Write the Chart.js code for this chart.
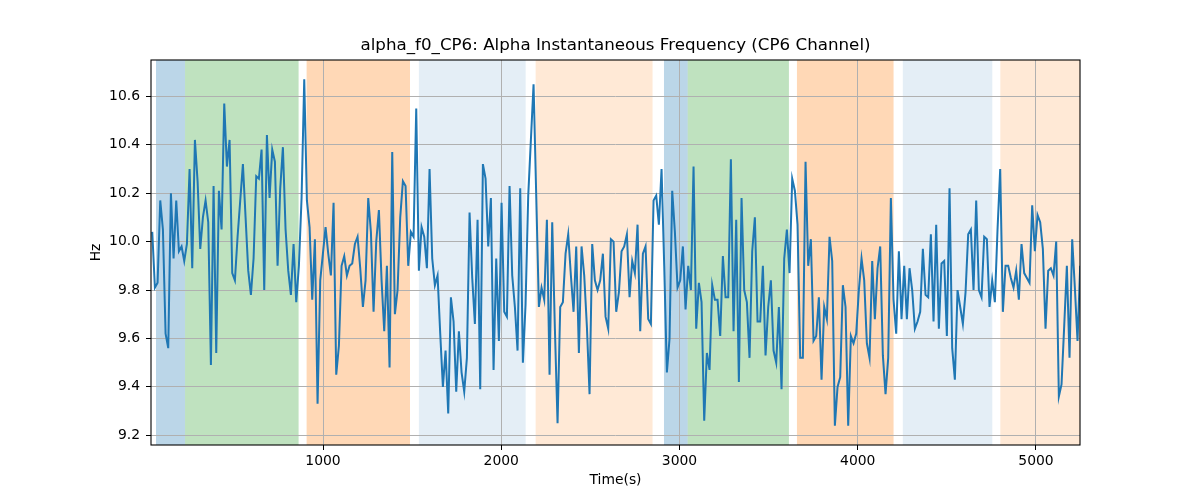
<!DOCTYPE html>
<html>
<head>
<meta charset="utf-8">
<script src="https://cdn.jsdelivr.net/npm/chart.js@4/dist/chart.umd.min.js"></script>
<style>
  html, body { margin: 0; padding: 0; background: #fff; }
  #wrap { width: 1200px; height: 500px; }
</style>
</head>
<body>
<div id="wrap"><canvas id="chart" width="1200" height="500"></canvas></div>
<script>
// sample clock of the signal (seconds)
const START = 42
const STEP = 14.96

// alpha instantaneous frequency, Hz
const values = [
    10.04, 9.81, 9.83, 10.17, 10.05, 9.62, 9.56, 10.2, 9.93, 10.17, 9.96, 9.98, 9.92, 9.99, 10.3, 9.89,
    10.42, 10.25, 9.97, 10.1, 10.17, 10.08, 9.49, 10.23, 9.54, 10.21, 10.05, 10.57, 10.31, 10.42, 9.87,
    9.84, 10.02, 10.17, 10.32, 10.1, 9.88, 9.78, 9.93, 10.27, 10.26, 10.38, 9.80,
    10.44, 10.18, 10.38, 10.33, 9.90, 10.22, 10.39, 10.05, 9.88, 9.78, 9.99, 9.75, 9.9, 10.18, 10.67,
    10.17, 10.06, 9.76, 10.01, 9.33, 9.84, 9.95, 10.06, 9.95, 9.86, 10.16, 9.45, 9.57, 9.9, 9.94, 9.86,
    9.9, 9.91, 9.99, 10.02, 9.89, 9.73, 9.84, 10.18, 10.04, 9.71, 10.0, 10.13, 9.84, 9.63,
    9.9, 9.48, 10.37, 9.70, 9.8, 10.1, 10.25, 10.23, 9.9, 10.04, 10.02, 10.55, 9.88, 10.06, 10.02, 9.89,
    10.3, 9.93, 9.82, 9.86, 9.62, 9.40, 9.55, 9.29, 9.77, 9.67, 9.38, 9.63, 9.46, 9.38, 9.52, 10.12,
    9.85, 9.66, 10.09, 9.39, 10.32, 10.26, 9.98, 10.18, 9.47, 9.93, 9.59, 10.16, 9.71,
    9.69, 10.23, 9.86, 9.73, 9.55, 10.22, 9.5, 9.74, 10.19, 10.42, 10.65, 10.19, 9.73, 9.81, 9.76, 10.09,
    9.45, 10.08, 9.64, 9.25, 9.73, 9.75, 9.95, 10.03, 9.86, 9.71, 9.98, 9.54, 9.98, 9.86, 9.65, 9.37,
    9.99, 9.84, 9.80, 9.84, 9.95, 9.69, 9.64, 10.01, 10.0, 9.71, 9.79, 9.96, 9.98,
    10.03, 9.77, 9.92, 9.87, 10.07, 9.63, 9.95, 9.98, 9.68, 9.66, 10.17, 10.19, 10.07, 10.3, 9.9, 9.46,
    9.6, 10.21, 10.04, 9.81, 9.84, 9.98, 9.72, 9.9, 9.8, 10.31, 9.64, 9.83, 9.75, 9.26, 9.54, 9.47,
    9.82, 9.76, 9.76, 9.61, 9.94, 9.77, 9.77, 10.34, 9.63, 10.09, 9.42, 10.18, 9.8,
    9.75, 9.52, 9.96, 10.1, 9.67, 9.67, 9.9, 9.53, 9.73, 9.84, 9.55, 9.5, 9.73, 9.39, 9.93, 10.05,
    9.87, 10.26, 10.21, 10.07, 9.52, 9.52, 10.33, 9.9, 10.01, 9.59, 9.61, 9.77, 9.43, 9.73, 9.68, 10.02,
    9.92, 9.24, 9.4, 9.44, 9.82, 9.73, 9.24, 9.61, 9.58, 9.62, 9.8, 9.93, 9.84,
    9.58, 9.52, 9.92, 9.68, 9.89, 9.98, 9.53, 9.37, 9.52, 10.18, 9.76, 9.62, 9.96, 9.68, 9.9, 9.68,
    9.89, 9.8, 9.64, 9.67, 9.71, 9.97, 9.78, 9.77, 10.03, 9.67, 10.07, 9.64, 9.91, 9.92, 9.61, 10.22,
    9.56, 9.43, 9.8, 9.73, 9.66, 9.79, 10.03, 10.05, 9.8, 10.17, 9.8, 9.77, 10.02,
    10.01, 9.73, 9.84, 9.75, 10.05, 10.3, 9.71, 9.9, 9.9, 9.85, 9.81, 9.88, 9.76, 9.99, 9.87, 9.85,
    9.83, 10.15, 9.96, 10.11, 10.08, 9.97, 9.64, 9.88, 9.89, 9.86, 10.0, 9.36, 9.41, 9.65, 9.9, 9.52,
    10.01, 9.81, 9.59, 9.9
]

// shaded phases (seconds)
const spanStart = [63, 226, 908, 1538, 2193, 2913, 3046, 3659, 4253, 4800]
const spanEnd   = [226, 863, 1488, 2137, 2849, 3046, 3614, 4201, 4755, 5300]

const xTicks = [1000, 2000, 3000, 4000, 5000]
const yTicks = [9.2, 9.4, 9.6, 9.8, 10.0, 10.2, 10.4, 10.6]

const TITLE = 'alpha_f0_CP6: Alpha Instantaneous Frequency (CP6 Channel)'

const spanColors = [
    'rgba(31,119,180,0.3)', 'rgba(44,160,44,0.3)', 'rgba(255,127,14,0.3)',
    'rgba(31,119,180,0.12)', 'rgba(255,127,14,0.17)',
    'rgba(31,119,180,0.3)', 'rgba(44,160,44,0.3)', 'rgba(255,127,14,0.3)',
    'rgba(31,119,180,0.12)', 'rgba(255,127,14,0.17)'
]

const points = values.map((v, i) => ({ x: START + STEP * i, y: v }))
const FONT = 'DejaVu Sans'

const spans = {
    id: 'spans',
    beforeDraw(chart) {
        const { ctx, chartArea: a, scales: { x } } = chart
        ctx.save()
        ctx.beginPath()
        ctx.rect(a.left, a.top, a.right - a.left, a.bottom - a.top)
        ctx.clip()
        spanStart.forEach((s, i) => {
            const x0 = x.getPixelForValue(s)
            const x1 = x.getPixelForValue(spanEnd[i])
            ctx.fillStyle = spanColors[i]
            ctx.fillRect(x0, a.top, x1 - x0, a.bottom - a.top)
        })
        ctx.restore()
    }
}

// axes frame + title centred over the plot area (matplotlib style)
const frame = {
    id: 'frame',
    afterDraw(chart) {
        const { ctx, chartArea: a } = chart
        ctx.save()
        ctx.strokeStyle = '#000'
        ctx.lineWidth = 1.1
        ctx.strokeRect(a.left, a.top, a.right - a.left, a.bottom - a.top)
        ctx.fillStyle = '#000'
        ctx.font = '16.7px "' + FONT + '"'
        ctx.textAlign = 'center'
        ctx.textBaseline = 'middle'
        ctx.fillText(TITLE, (a.left + a.right) / 2, a.top - 14)
        ctx.restore()
    }
}

new Chart(document.getElementById('chart'), {
    type: 'line',
    data: {
        datasets: [{
            data: points,
            borderColor: '#1f77b4',
            borderWidth: 2,
            pointRadius: 0,
            tension: 0,
            fill: false
        }]
    },
    options: {
        responsive: false,
        animation: false,
        events: [],
        layout: { padding: { left: 80, right: 120, top: 60, bottom: 0 } },
        plugins: {
            legend: { display: false },
            tooltip: { enabled: false },
            title: { display: false }
        },
        scales: {
            x: {
                type: 'linear',
                min: 35,
                max: 5247,
                afterFit(scale) { scale.height = 55 },
                afterBuildTicks(scale) { scale.ticks = xTicks.map(v => ({ value: v })) },
                ticks: {
                    color: '#000',
                    font: { family: FONT, size: 13.9 },
                    padding: 3,
                    maxRotation: 0,
                    callback: v => String(v)
                },
                grid: { color: '#b0b0b0', lineWidth: 1, tickColor: '#000', tickLength: 5 },
                border: { display: false },
                title: {
                    display: true,
                    text: 'Time(s)',
                    color: '#000',
                    font: { family: FONT, size: 13.9 },
                    padding: { top: 0, bottom: 11 }
                }
            },
            y: {
                min: 9.16,
                max: 10.75,
                afterFit(scale) { scale.width = 71 },
                afterBuildTicks(scale) { scale.ticks = yTicks.map(v => ({ value: v })) },
                ticks: {
                    color: '#000',
                    font: { family: FONT, size: 13.9 },
                    padding: 6,
                    callback: v => Number(v).toFixed(1)
                },
                grid: { color: '#b0b0b0', lineWidth: 1, tickColor: '#000', tickLength: 5 },
                border: { display: false },
                title: {
                    display: true,
                    text: 'Hz',
                    color: '#000',
                    font: { family: FONT, size: 13.9 },
                    padding: { top: 8, bottom: 0 }
                }
            }
        }
    },
    plugins: [spans, frame]
})
</script>
</body>
</html>
